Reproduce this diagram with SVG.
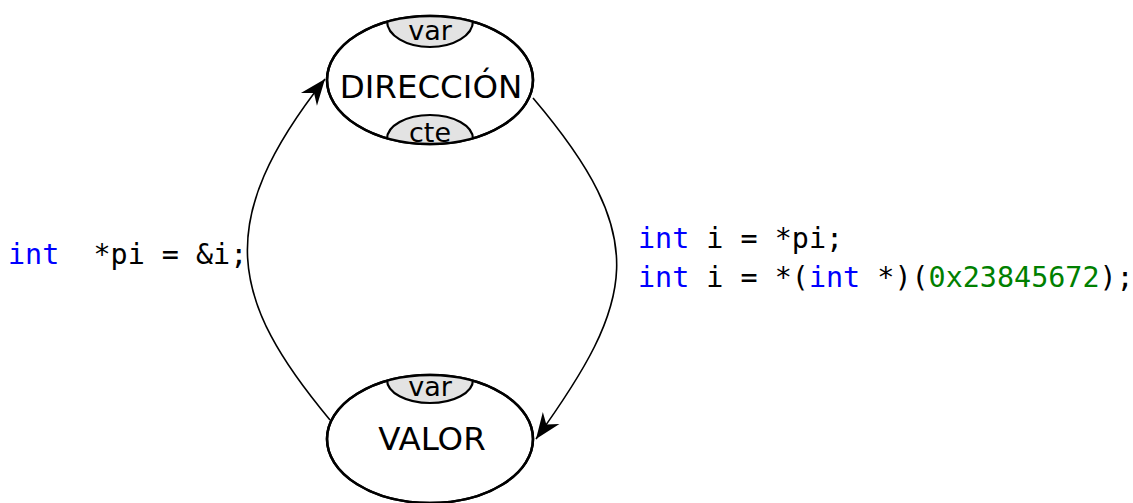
<svg xmlns="http://www.w3.org/2000/svg" width="1133" height="503" viewBox="0 0 1133 503">
<style>
.node{fill:#fff;stroke:#000;stroke-width:2.5}
.cap{fill:#e3e3e3;stroke:#000;stroke-width:2.2}
.lbl{font-family:"DejaVu Sans",sans-serif;fill:#000;text-anchor:middle}
.big{font-size:32.5px}
.small{font-size:27px}
.code{font-family:"DejaVu Sans Mono",monospace;font-size:28.4px;fill:#000;white-space:pre}
.kw{fill:#0000ff}
.num{fill:#008000}
.edge{fill:none;stroke:#000;stroke-width:1.6}
</style>
<defs>
<marker id="arr" markerUnits="userSpaceOnUse" markerWidth="30" markerHeight="30" viewBox="-20 -10 22 20" refX="0" refY="0" orient="auto" overflow="visible">
<path d="M0,0 L-19,-7.5 L-13,0 L-19,7.5 Z" fill="#000"/>
</marker>
<clipPath id="clipD"><ellipse cx="430" cy="80" rx="103" ry="64"/></clipPath>
<clipPath id="clipV"><ellipse cx="430" cy="439" rx="103" ry="64"/></clipPath>
</defs>
<rect width="1133" height="503" fill="#fff"/>
<g id="connectors">
<path class="edge" d="M330,420 C230,300 212,222 325,79" marker-end="url(#arr)"/>
<path class="edge" d="M533,98 C652,238 636,300 536,439" marker-end="url(#arr)"/>
</g>
<g id="node-direccion">
<ellipse class="node" cx="430" cy="80" rx="103" ry="64"/>
<g clip-path="url(#clipD)">
<ellipse class="cap" cx="430" cy="21" rx="43" ry="26"/>
<ellipse class="cap" cx="430" cy="139" rx="43" ry="24"/>
</g>
<ellipse cx="430" cy="80" rx="103" ry="64" fill="none" stroke="#000" stroke-width="2.5"/>
<text class="lbl small" x="430" y="40">var</text>
<text class="lbl big" x="431" y="98">DIRECCIÓN</text>
<text class="lbl small" x="430" y="142">cte</text>
</g>
<g id="node-valor">
<ellipse class="node" cx="430" cy="439" rx="103" ry="64"/>
<g clip-path="url(#clipV)">
<ellipse class="cap" cx="430" cy="380" rx="43" ry="23"/>
</g>
<ellipse cx="430" cy="439" rx="103" ry="64" fill="none" stroke="#000" stroke-width="2.5"/>
<text class="lbl small" x="430" y="396">var</text>
<text class="lbl big" x="432" y="450">VALOR</text>
</g>
<g id="code-left">
<text class="code" x="8" y="264"><tspan class="kw">int</tspan>  *pi = &amp;i;</text>
</g>
<g id="code-right">
<text class="code" x="638" y="248"><tspan class="kw">int</tspan> i = *pi;</text>
<text class="code" x="638" y="287"><tspan class="kw">int</tspan> i = *(<tspan class="kw">int</tspan> *)(<tspan class="num">0x23845672</tspan>);</text>
</g>
</svg>
